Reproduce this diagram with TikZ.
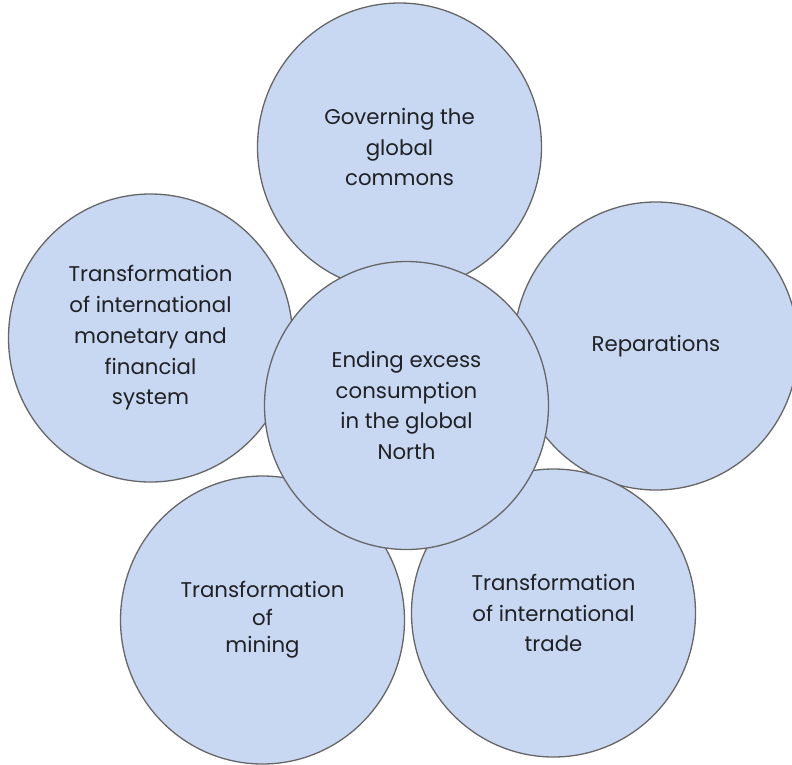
\documentclass[tikz,border=0pt]{standalone}
\usepackage{fontspec}
\setmainfont{Poppins}
\usetikzlibrary{shapes.geometric}
\definecolor{bubblefill}{HTML}{C9D8F2}
\definecolor{bubbleline}{HTML}{666666}
\definecolor{bubbletext}{HTML}{202124}
\tikzset{
  bubble/.style={ellipse, draw=bubbleline, fill=bubblefill, line width=1.3pt,
    minimum width=284pt, minimum height=288pt, inner sep=0pt,
    align=center, text=bubbletext, font=\fontsize{21.3}{30.8}\selectfont},
}
\begin{document}
\begin{tikzpicture}[x=1pt,y=-1pt]
  \useasboundingbox (0,0) rectangle (792,764);
  % outer ring of themes
  \node[bubble] (commons) at (399.5,147) {Governing the\\global\\commons};
  \node[bubble] (finance) at (150.5,338) {Transformation\\of international\\monetary and\\financial\\system};
  \node[bubble] (repar) at (656,346) {Reparations};
  \node[bubble] (trade) at (553.5,613) {Transformation\\of international\\trade};
  \node[bubble, font=\fontsize{21.3}{27.5}\selectfont] (mining) at (262.5,620) {Transformation\\of\\mining};
  % central theme on top
  \node[bubble] (core) at (406.5,405.5) {Ending excess\\consumption\\in the global\\North};
\end{tikzpicture}
\end{document}
